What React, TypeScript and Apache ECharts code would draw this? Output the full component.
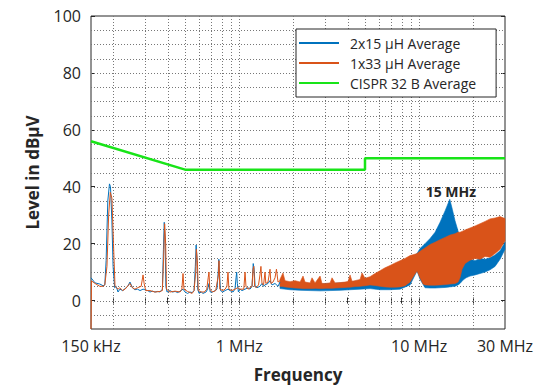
import React, { useEffect, useRef } from 'react';
import * as echarts from 'echarts';

// ---------- data ----------
const seriesNames = ['2x15 µH Average', '1x33 µH Average', 'CISPR 32 B Average'];

const xLabelFreqs = [150000, 1000000, 10000000, 30000000];
const xTickLabels = ['150 kHz', '1 MHz', '10 MHz', '30 MHz'];
const xGridFreqs = [2e5, 3e5, 4e5, 5e5, 6e5, 7e5, 8e5, 9e5, 1e6, 2e6, 3e6, 4e6, 5e6, 6e6, 7e6, 8e6, 9e6, 1e7, 2e7];
const yTickValues = [0, 20, 40, 60, 80, 100];
const yGridLevels = [-5, 0, 5, 10, 15, 20, 25, 30, 35, 40, 45, 50, 55, 60, 65, 70, 75, 80, 85, 90, 95];

// [frequency Hz, level dBµV] — low-frequency trace of 2x15 µH
const blueTrace: [number, number][] = [
  [150000, 8], [157900, 6.2], [168000, 5.8], [175000, 5.2], [179000, 5.5], [182000, 14], [186000, 35],
  [190000, 41], [192500, 40], [196000, 28], [199000, 12], [203000, 4.5], [207000, 5], [212000, 3],
  [217000, 4], [225000, 3.5], [232000, 4.2], [240000, 5], [247000, 6.5], [255000, 4.5], [263000, 3.8],
  [272000, 4], [281000, 3.5], [292000, 4], [299000, 3.8], [310000, 3.5], [319000, 3], [330000, 3.3],
  [340000, 3], [352000, 3.2], [363000, 3], [374000, 4], [379000, 18], [383000, 27.5], [387000, 22],
  [391000, 5], [397000, 3], [412000, 3.5], [426000, 3], [440000, 3.2], [455000, 2.8], [469000, 3.3],
  [487000, 4], [500000, 3], [516000, 2.5], [532000, 3], [547000, 2.8], [561000, 3.5], [570000, 12],
  [576000, 19.5], [582000, 15], [588000, 4], [598000, 2.5], [615000, 3], [629000, 2.5], [654000, 3],
  [667000, 4], [679000, 6], [690000, 3], [710000, 3], [735000, 3.5], [752000, 4], [764000, 10],
  [770000, 14.5], [778000, 9], [787000, 3.5], [810000, 3], [834000, 3.5], [866000, 4], [889000, 3.5],
  [924000, 3], [947000, 4], [960000, 8], [968000, 10], [976000, 6], [990000, 3], [1010000, 4],
  [1036000, 3.5], [1077000, 4], [1119000, 4.5], [1148000, 4], [1178000, 5], [1196000, 13], [1210000, 11],
  [1225000, 5], [1255000, 4.5], [1304000, 5], [1338000, 6], [1365000, 5], [1391000, 5.5], [1445000, 6],
  [1483000, 7], [1521000, 5.5], [1581000, 6], [1643000, 5], [1685000, 6.5],
];

// low-frequency trace of 1x33 µH
const orangeTrace: [number, number][] = [
  [150000, -10], [151000, 6.9], [157900, 6], [168000, 5], [175000, 5], [179000, 5.5], [184000, 12],
  [188000, 30], [192000, 38], [196000, 36], [200000, 20], [204000, 5], [212000, 4], [217000, 4.5],
  [225000, 3.5], [232000, 4], [247000, 6], [255000, 4.5], [263000, 4], [272000, 4.5], [285000, 5],
  [292000, 9], [296000, 6], [302000, 3.5], [319000, 3.5], [340000, 3], [363000, 3.2], [374000, 3.5],
  [380000, 15], [385000, 27], [390000, 20], [394000, 4], [412000, 3], [440000, 3.3], [469000, 3],
  [480000, 4], [487000, 9.5], [493000, 4], [516000, 3.2], [547000, 2.5], [561000, 3.5], [573000, 10],
  [578000, 18], [585000, 14], [592000, 3.5], [615000, 3], [640000, 3], [660000, 4], [672000, 8],
  [679000, 10], [686000, 4], [710000, 3], [740000, 3.5], [766000, 9], [772000, 14], [780000, 4],
  [810000, 3.5], [834000, 4], [854000, 5], [866000, 10], [876000, 4], [910000, 3.5], [947000, 4],
  [980000, 4.5], [1010000, 4], [1060000, 4], [1077000, 10], [1090000, 5], [1119000, 4], [1148000, 4.5],
  [1178000, 5], [1193000, 11], [1205000, 12], [1218000, 5], [1240000, 4.5], [1280000, 5.5], [1304000, 9],
  [1320000, 12], [1338000, 6], [1365000, 5.5], [1391000, 10], [1405000, 6], [1445000, 6.5], [1483000, 11],
  [1500000, 6], [1540000, 6.5], [1581000, 8], [1610000, 11], [1643000, 6.5], [1685000, 7],
];

// dense high-frequency part: [frequency Hz, lower envelope, upper envelope]
const blueBand: [number, number, number][] = [
  [1685000, 4.2, 7], [1916000, 3.8, 6.2], [2178000, 3.6, 6.2], [2475000, 3.5, 6], [2813000, 3.4, 5.8],
  [3197000, 3.5, 6], [3633000, 3.6, 6.2], [4129000, 3.8, 6.5], [4693000, 4, 7], [5333000, 4.2, 8],
  [6062000, 3.8, 9.5], [6888000, 3.8, 11.5], [7829000, 4, 13], [8899000, 5.5, 15], [9732000, 10.4, 16.5],
  [10110000, 7.5, 18.3], [10780000, 4.5, 20], [11500000, 4.4, 21.8], [12260000, 4.4, 24], [13070000, 4.5, 27.5],
  [13930000, 4.6, 31.5], [14800000, 4.8, 35.6], [15300000, 4.9, 32], [15830000, 5, 28], [16440000, 5.5, 24.5],
  [16870000, 6, 21.8], [17540000, 7.2, 18], [18230000, 8, 15], [19180000, 8.6, 14.5], [20450000, 9, 14],
  [21800000, 9.5, 14.8], [23240000, 10, 14.5], [24770000, 10.8, 15], [26410000, 12, 16], [28160000, 14.5, 17.5],
  [30000000, 18, 20.5],
];

const orangeBand: [number, number, number][] = [
  [1685000, 5, 7.5], [1750000, 4.9, 9.7], [1797000, 4.8, 7], [1916000, 4.6, 6.6], [2043000, 4.4, 7],
  [2178000, 4.3, 6.5], [2262000, 4.2, 8.6], [2321000, 4.2, 6.5], [2475000, 4.2, 6.2], [2538000, 4.2, 8],
  [2638000, 4.3, 6.2], [2813000, 4.2, 8.6], [2884000, 4.2, 6], [2999000, 4.3, 6], [3197000, 4.3, 6.2],
  [3279000, 4.3, 8], [3408000, 4.4, 6.2], [3633000, 4.5, 6.3], [3873000, 4.6, 6.5], [4025000, 4.7, 6.7],
  [4129000, 4.7, 9], [4236000, 4.8, 6.8], [4402000, 4.9, 7], [4693000, 5, 7.4], [4813000, 5.1, 9.7],
  [5003000, 5.2, 7.8], [5333000, 5.5, 8.4], [5686000, 5.3, 9.5], [6062000, 5, 10.5], [6462000, 4.8, 11.5],
  [6888000, 4.7, 12.3], [7344000, 4.7, 13.2], [7829000, 4.8, 14], [8347000, 5.2, 14.8], [8899000, 6.5, 15.8],
  [9365000, 8.8, 16.2], [9732000, 10.4, 16.5], [10110000, 8, 17.3], [10510000, 5.8, 18], [10780000, 5.5, 18.5],
  [11500000, 5.4, 19.7], [12260000, 5.4, 20.5], [13070000, 5.5, 21.4], [13930000, 5.6, 22.2], [14850000, 5.8, 23],
  [15830000, 6, 23.5], [16440000, 6.5, 24], [16870000, 8, 24], [17310000, 11, 24.3], [17990000, 13, 24.8],
  [19180000, 14.2, 25.5], [20450000, 14.8, 26.2], [21800000, 14.5, 27], [23240000, 15.5, 27.8], [24770000, 15.2, 28.7],
  [26410000, 16.5, 29], [28160000, 18, 29.5], [30000000, 21, 28.8],
];

// CISPR 32 class B average limit
const cisprLimit: [number, number][] = [
  [150000, 56], [500000, 46], [5000000, 46], [5000000, 50], [30000000, 50],
];

const peakLabel = '15 MHz';
const peakPoint: [number, number] = [15000000, 35.6];

// ---------- styling ----------
const BLUE = '#0072BD';
const ORANGE = '#D95319';
const GREEN = '#18E418';
const INK = '#262626';
const DOT = '#777777';
const FONT = 'Open Sans';
const X_MIN = 150000;
const X_MAX = 30000000;
const Y_MIN = -10;
const Y_MAX = 100;

function freqLabel(v: number): string {
  let best = 0;
  let bestD = Infinity;
  xLabelFreqs.forEach((f, i) => {
    const d = Math.abs(Math.log10(v) - Math.log10(f));
    if (d < bestD) { bestD = d; best = i; }
  });
  return xTickLabels[best];
}

function bandSeries(name: string, band: [number, number, number][], color: string, z: number) {
  return {
    type: 'custom', name, silent: true, z, animation: false,
    data: band,
    encode: { x: 0, y: [1, 2] },
    renderItem: (params: any, api: any) => {
      if (params.dataIndex !== 0) return null;
      const upper = band.map((d) => api.coord([d[0], d[2]]));
      const lower = band.map((d) => api.coord([d[0], d[1]])).reverse();
      return {
        type: 'polygon',
        shape: { points: upper.concat(lower) },
        style: { fill: color, stroke: color, lineWidth: 0.6 },
      };
    },
  };
}

// one custom series draws every dotted grid line; row = [x, y, kind] (kind 0 vertical, 1 horizontal)
const gridRows: [number, number, number][] = [
  ...xGridFreqs.map((f) => [f, 45, 0] as [number, number, number]),
  ...yGridLevels.map((v) => [1000000, v, 1] as [number, number, number]),
];

function buildOption() {
  const lineBase = { type: 'line', symbol: 'none', showSymbol: false, silent: true, animation: false };
  return {
    animation: false,
    textStyle: { fontFamily: FONT },
    grid: { left: 91, right: 43, top: 16, bottom: 54, show: true, borderColor: INK, borderWidth: 1, backgroundColor: 'transparent' },
    legend: {
      data: seriesNames,
      orient: 'vertical',
      left: 296,
      top: 29,
      itemWidth: 40,
      itemHeight: 14,
      itemGap: 6,
      padding: [7, 20, 7, 2],
      backgroundColor: '#ffffff',
      borderColor: INK,
      borderWidth: 1,
      selectedMode: false,
      itemStyle: { opacity: 0, borderWidth: 0 },
      textStyle: { fontSize: 14, color: INK, fontFamily: FONT, padding: [0, 0, 0, 6] },
    },
    xAxis: [
      {
        type: 'log', logBase: 10, min: X_MIN, max: X_MAX,
        axisLine: { show: false },
        axisTick: { show: true, inside: true, length: 3, customValues: xGridFreqs, lineStyle: { color: INK } },
        axisLabel: { customValues: xLabelFreqs, formatter: (v: number) => freqLabel(v), fontSize: 16, color: INK, margin: 9, fontFamily: FONT },
        splitLine: { show: false },
        name: 'Frequency', nameLocation: 'middle', nameGap: 37,
        nameTextStyle: { fontSize: 17, fontWeight: 'bold', color: INK, fontFamily: FONT },
      },
      {
        type: 'log', logBase: 10, min: X_MIN, max: X_MAX, position: 'top',
        axisLine: { show: false },
        axisTick: { show: true, inside: true, length: 3, customValues: xGridFreqs, lineStyle: { color: INK } },
        axisLabel: { show: false },
        splitLine: { show: false },
      },
    ],
    yAxis: [
      {
        type: 'value', min: Y_MIN, max: Y_MAX, interval: 5,
        axisLine: { show: false },
        axisTick: { show: true, inside: true, length: 4, customValues: yTickValues, lineStyle: { color: INK } },
        axisLabel: { customValues: yTickValues, fontSize: 16, color: INK, margin: 10, fontFamily: FONT },
        splitLine: { show: false },
        name: 'Level in dBµV', nameLocation: 'middle', nameGap: 50,
        nameTextStyle: { fontSize: 17, fontWeight: 'bold', color: INK, fontFamily: FONT },
      },
      {
        type: 'value', min: Y_MIN, max: Y_MAX, interval: 5, position: 'right',
        axisLine: { show: false },
        axisTick: { show: true, inside: true, length: 4, customValues: yTickValues, lineStyle: { color: INK } },
        axisLabel: { show: false },
        splitLine: { show: false },
      },
    ],
    series: [
      {
        type: 'custom', name: 'grid-lines', silent: true, z: 1, animation: false, clip: false,
        data: gridRows,
        encode: { x: 0, y: 1 },
        renderItem: (params: any, api: any) => {
          const kind = api.value(2);
          if (kind === 0) {
            const f = api.value(0);
            const p0 = api.coord([f, Y_MIN]);
            const p1 = api.coord([f, Y_MAX]);
            const x = Math.round(p0[0]) + 0.5;
            return {
              type: 'polyline',
              shape: { points: [[x, p0[1]], [x + 0.001, (p0[1] + p1[1]) / 2], [x, p1[1]]] },
              style: { stroke: DOT, fill: 'none', lineWidth: 1, lineDash: [1, 2] },
            };
          }
          const v = api.value(1);
          const q0 = api.coord([X_MIN, v]);
          const q1 = api.coord([X_MAX, v]);
          const y = Math.round(q0[1]) + 0.5;
          return {
            type: 'polyline',
            shape: { points: [[q0[0], y], [(q0[0] + q1[0]) / 2, y + 0.001], [q1[0], y]] },
            style: { stroke: DOT, fill: 'none', lineWidth: 1, lineDash: [1, 2] },
          };
        },
      },
      bandSeries('blue-band', blueBand, BLUE, 2),
      {
        ...lineBase, name: seriesNames[0], data: blueTrace, color: BLUE,
        lineStyle: { color: BLUE, width: 1 },
        markPoint: {
          silent: true, symbol: 'circle', symbolSize: 0, animation: false,
          data: [{ coord: peakPoint, value: peakLabel }],
          label: { show: true, position: 'top', distance: 1, formatter: peakLabel, fontSize: 14, fontWeight: 'bold', color: INK, fontFamily: FONT },
        },
      },
      bandSeries('orange-band', orangeBand, ORANGE, 2),
      {
        ...lineBase, name: seriesNames[1], data: orangeTrace, color: ORANGE,
        lineStyle: { color: ORANGE, width: 1 },
      },
      {
        ...lineBase, name: seriesNames[2], data: cisprLimit, color: GREEN,
        lineStyle: { color: GREEN, width: 2.5 },
      },
    ],
  };
}

export default function App() {
  const ref = useRef<HTMLDivElement>(null);
  useEffect(() => {
    if (!ref.current) return;
    const chart = echarts.init(ref.current, null, { renderer: 'svg' });
    chart.setOption(buildOption() as any);
    return () => chart.dispose();
  }, []);
  return (
    <div
      ref={ref}
      style={{ position: 'fixed', left: 0, top: 0, width: 548, height: 388, background: '#fff' }}
    />
  );
}
